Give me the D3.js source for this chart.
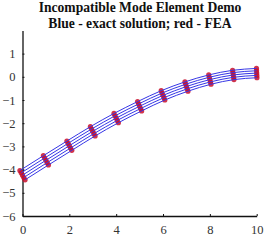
<!DOCTYPE html>
<html>
<head>
<meta charset="utf-8">
<script src="https://cdn.jsdelivr.net/npm/d3@7/dist/d3.min.js"></script>
<style>
  html, body { margin: 0; padding: 0; background: #fff; }
  .title { font-family: "Liberation Serif", "Times New Roman", serif; font-weight: bold; font-size: 13.6px; fill: #111; }
  .axis text { font-family: "Liberation Serif", "Times New Roman", serif; font-size: 12.5px; fill: #333; }
  .axis path, .axis line { stroke: #111; }
</style>
</head>
<body>
<svg id="chart"></svg>
<script>
// Incompatible mode element demo — beam fibres, exact vs FEA

const stations = [0, 1, 2, 3, 4, 5, 6, 7, 8, 9, 10];
const centerY = [-4.24, -3.6, -2.97, -2.35, -1.78, -1.27, -0.8, -0.42, -0.12, 0.08, 0.16];
const slope = [0.66, 0.64, 0.62, 0.58, 0.53, 0.48, 0.42, 0.34, 0.25, 0.15, 0.05];
const fibres = [-0.2, -0.1, 0, 0.1, 0.2];
const xTicks = [0, 2, 4, 6, 8, 10];
const yTicks = [-6, -5, -4, -3, -2, -1, 0, 1];
const titles = ["Incompatible Mode Element Demo", "Blue - exact solution; red - FEA"];

(function () {
  const W = 272, H = 242;
  const BLUE = "#3636e6";
  const RED = "#c80f2c";

  const svg = d3.select("#chart").attr("width", W).attr("height", H);

  const x = d3.scaleLinear().domain([0, 10]).range([22.5, 256.7]);
  const y = d3.scaleLinear().domain([-6, 2]).range([216, 30.4]);

  // Titles
  titles.forEach((t, i) => {
    svg.append("text").attr("class", "title")
      .attr("x", 140).attr("y", 12 + i * 15.5)
      .attr("text-anchor", "middle")
      .text(t);
  });

  // Axes
  svg.append("g").attr("class", "axis")
    .attr("transform", `translate(0,${y(-6)})`)
    .call(d3.axisBottom(x).tickValues(xTicks).tickSizeInner(-2).tickSizeOuter(0).tickPadding(7))
    .call(g => g.selectAll("text").attr("dy", "0.9em"));

  svg.append("g").attr("class", "axis")
    .attr("transform", `translate(${x(0)},0)`)
    .call(d3.axisLeft(y).tickValues(yTicks).tickSizeInner(-2).tickSizeOuter(0).tickPadding(7));

  svg.selectAll(".axis path").attr("stroke-width", 1.3);

  // Fibre positions: offset through the thickness, shifted with section rotation
  const rows = fibres.map(z => stations.map((s, i) => {
    const a = Math.atan(slope[i]);
    return { px: s - z * Math.sin(a), py: centerY[i] + z };
  }));

  const line = d3.line().x(d => x(d.px)).y(d => y(d.py)).curve(d3.curveMonotoneX);

  // FEA points (red), exact fibres (blue) drawn over them
  svg.append("g").selectAll("circle")
    .data(rows.flat())
    .join("circle")
    .attr("cx", d => x(d.px))
    .attr("cy", d => y(d.py))
    .attr("r", 2.6)
    .attr("fill", RED)
    .attr("fill-opacity", 0.85);

  svg.append("g").selectAll("path")
    .data(rows)
    .join("path")
    .attr("fill", "none")
    .attr("stroke", BLUE)
    .attr("stroke-width", 1)
    .attr("d", line);
})();
</script>
</body>
</html>
